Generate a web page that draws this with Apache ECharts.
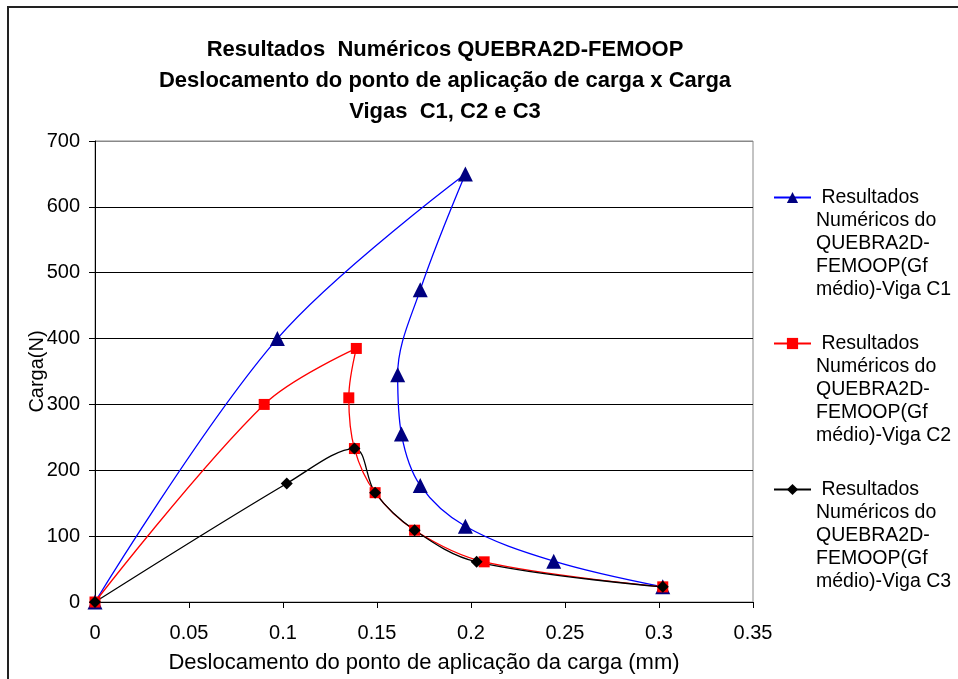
<!DOCTYPE html>
<html>
<head>
<meta charset="utf-8">
<script src="https://cdn.jsdelivr.net/npm/echarts@6/dist/echarts.min.js"></script>
<style>
  html, body { margin: 0; padding: 0; background: #fff; }
  #chart { width: 958px; height: 679px; }
</style>
</head>
<body>
<div id="chart"></div>
<script>
// deslocamento (mm) x carga (N)
const vigaC1 = [
  [0, 0], [0.097, 400], [0.197, 650], [0.173, 474], [0.161, 345],
  [0.163, 255], [0.173, 177], [0.197, 115], [0.244, 62], [0.302, 23]
];
const vigaC2 = [
  [0, 0], [0.090, 300], [0.139, 385], [0.135, 310], [0.138, 233],
  [0.149, 166], [0.170, 109], [0.207, 61], [0.302, 23]
];
const vigaC3 = [
  [0, 0], [0.102, 180], [0.138, 233], [0.149, 166], [0.170, 109],
  [0.203, 61], [0.302, 23]
];
const legendNames = [
  ' Resultados\nNuméricos do\nQUEBRA2D-\nFEMOOP(Gf\nmédio)-Viga C1',
  ' Resultados\nNuméricos do\nQUEBRA2D-\nFEMOOP(Gf\nmédio)-Viga C2',
  ' Resultados\nNuméricos do\nQUEBRA2D-\nFEMOOP(Gf\nmédio)-Viga C3'
];
const titleText = 'Resultados  Numéricos QUEBRA2D-FEMOOP\nDeslocamento do ponto de aplicação de carga x Carga\nVigas  C1, C2 e C3';

const font = 'Liberation Sans, Arial, sans-serif';
const chart = echarts.init(document.getElementById('chart'));

const option = {
  animation: false,
  textStyle: { fontFamily: font },
  title: {
    text: titleText,
    left: 445,
    top: 34,
    padding: 0,
    textAlign: 'center',
    textStyle: { fontFamily: font, fontSize: 22, fontWeight: 'bold', color: '#000', lineHeight: 31 }
  },
  graphic: [{
    type: 'rect',
    shape: { x: 8, y: 7, width: 1000, height: 1000 },
    style: { fill: null, stroke: '#222', lineWidth: 2 }
  }],
  legend: {
    orient: 'vertical',
    left: 773,
    top: 94,
    padding: 0,
    itemWidth: 37,
    itemHeight: 14,
    itemGap: -61,
    data: legendNames,
    // linhas vazias antes do texto: o ícone fica alinhado com a primeira linha
    formatter: function (name) { return '\n\n\n\n' + name; },
    textStyle: { fontFamily: font, fontSize: 19.5, color: '#000', lineHeight: 23 }
  },
  grid: {
    left: 95, top: 141, right: 205, bottom: 76,
    show: true, borderColor: '#888', borderWidth: 1
  },
  xAxis: {
    type: 'value',
    min: 0, max: 0.35, interval: 0.05,
    name: 'Deslocamento do ponto de aplicação da carga (mm)',
    nameLocation: 'middle',
    nameGap: 50,
    nameMoveOverlap: false,
    nameTextStyle: { fontFamily: font, fontSize: 22, color: '#000' },
    axisLine: { lineStyle: { color: '#000', width: 1 } },
    axisTick: { show: true, length: 6, lineStyle: { color: '#000' } },
    axisLabel: { fontFamily: font, fontSize: 20, color: '#000', margin: 21 },
    splitLine: { show: false }
  },
  yAxis: {
    type: 'value',
    min: 0, max: 700, interval: 100,
    name: 'Carga(N)',
    nameLocation: 'middle',
    nameGap: 48,
    nameMoveOverlap: false,
    nameTextStyle: { fontFamily: font, fontSize: 20, color: '#000' },
    axisLine: { show: true, lineStyle: { color: '#000', width: 1 } },
    axisTick: { show: true, length: 6, lineStyle: { color: '#000' } },
    axisLabel: { fontFamily: font, fontSize: 20, color: '#000', margin: 15 },
    splitLine: {
      show: true,
      lineStyle: { color: ['#000', '#000', '#000', '#000', '#000', '#000', '#000', '#888'], width: 1 }
    }
  },
  series: [
    {
      name: legendNames[0],
      type: 'line',
      data: vigaC1,
      smooth: 0.35,
      symbol: 'triangle',
      symbolSize: 15,
      lineStyle: { color: '#0000ff', width: 1.3 },
      itemStyle: { color: '#000080' }
    },
    {
      name: legendNames[1],
      type: 'line',
      data: vigaC2,
      smooth: 0.35,
      symbol: 'rect',
      symbolSize: 11,
      lineStyle: { color: '#ff0000', width: 1.3 },
      itemStyle: { color: '#ff0000' }
    },
    {
      name: legendNames[2],
      type: 'line',
      data: vigaC3,
      smooth: 0.35,
      symbol: 'diamond',
      symbolSize: 12,
      lineStyle: { color: '#000000', width: 1.3 },
      itemStyle: { color: '#000000' }
    }
  ]
};

chart.setOption(option);
</script>
</body>
</html>
